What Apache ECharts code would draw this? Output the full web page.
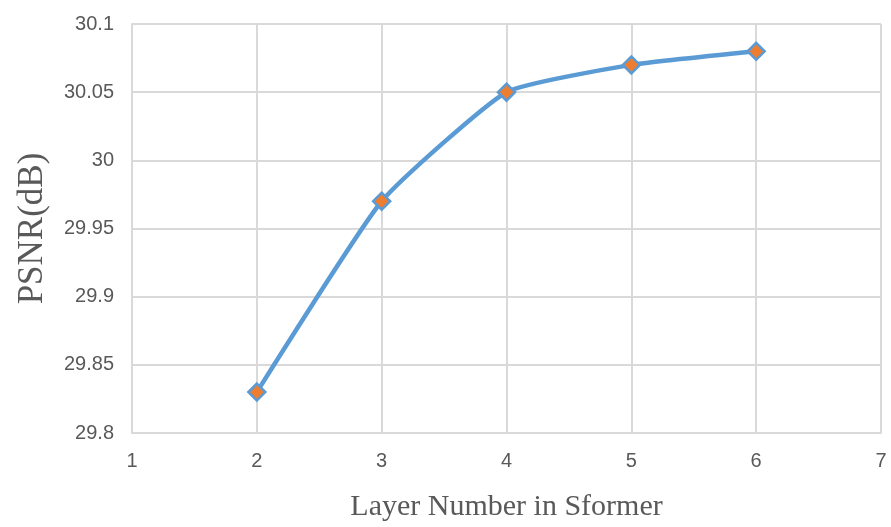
<!DOCTYPE html>
<html><head><meta charset="utf-8">
<script src="https://cdn.jsdelivr.net/npm/echarts@6/dist/echarts.min.js"></script>
<style>html,body{margin:0;padding:0;background:#fff}#c{width:891px;height:527px}</style>
</head><body><div id="c"></div>
<script>
const layers = [2, 3, 4, 5, 6];
const psnr = [29.83, 29.97, 30.05, 30.07, 30.08];
const xTitle = 'Layer Number in Sformer';
const yTitle = 'PSNR(dB)';

const chart = echarts.init(document.getElementById('c'));
chart.setOption({
  animation: false,
  backgroundColor: '#fff',
  grid: {left: 132, right: 10, top: 24, bottom: 87},
  xAxis: {
    type: 'value', min: 1, max: 7, interval: 1,
    name: xTitle, nameLocation: 'middle', nameGap: 59,
    nameTextStyle: {fontFamily: 'Liberation Serif', fontSize: 30, color: '#595959'},
    axisLine: {show: true, lineStyle: {color: '#D9D9D9', width: 2}},
    axisTick: {show: false},
    axisLabel: {fontFamily: 'Liberation Sans', fontSize: 20, color: '#595959', margin: 18},
    splitLine: {show: true, lineStyle: {color: '#D9D9D9', width: 2}}
  },
  yAxis: {
    type: 'value', min: 29.8, max: 30.1, interval: 0.05,
    name: yTitle, nameLocation: 'middle', nameGap: 82, nameRotate: 90,
    nameTextStyle: {fontFamily: 'Liberation Serif', fontSize: 35, color: '#595959'},
    axisLine: {show: true, lineStyle: {color: '#D9D9D9', width: 2}},
    axisTick: {show: false},
    axisLabel: {fontFamily: 'Liberation Sans', fontSize: 20, color: '#595959', margin: 18,
      formatter: v => String(parseFloat(v.toFixed(2)))},
    splitLine: {show: true, lineStyle: {color: '#D9D9D9', width: 2}}
  },
  series: [{
    type: 'line',
    data: layers.map((x, i) => [x, psnr[i]]),
    smooth: 0.15,
    symbol: 'diamond', symbolSize: 17,
    lineStyle: {color: '#5B9BD5', width: 4.5},
    itemStyle: {color: '#ED7D31', borderColor: '#5B9BD5', borderWidth: 2.5}
  }]
});
</script></body></html>
